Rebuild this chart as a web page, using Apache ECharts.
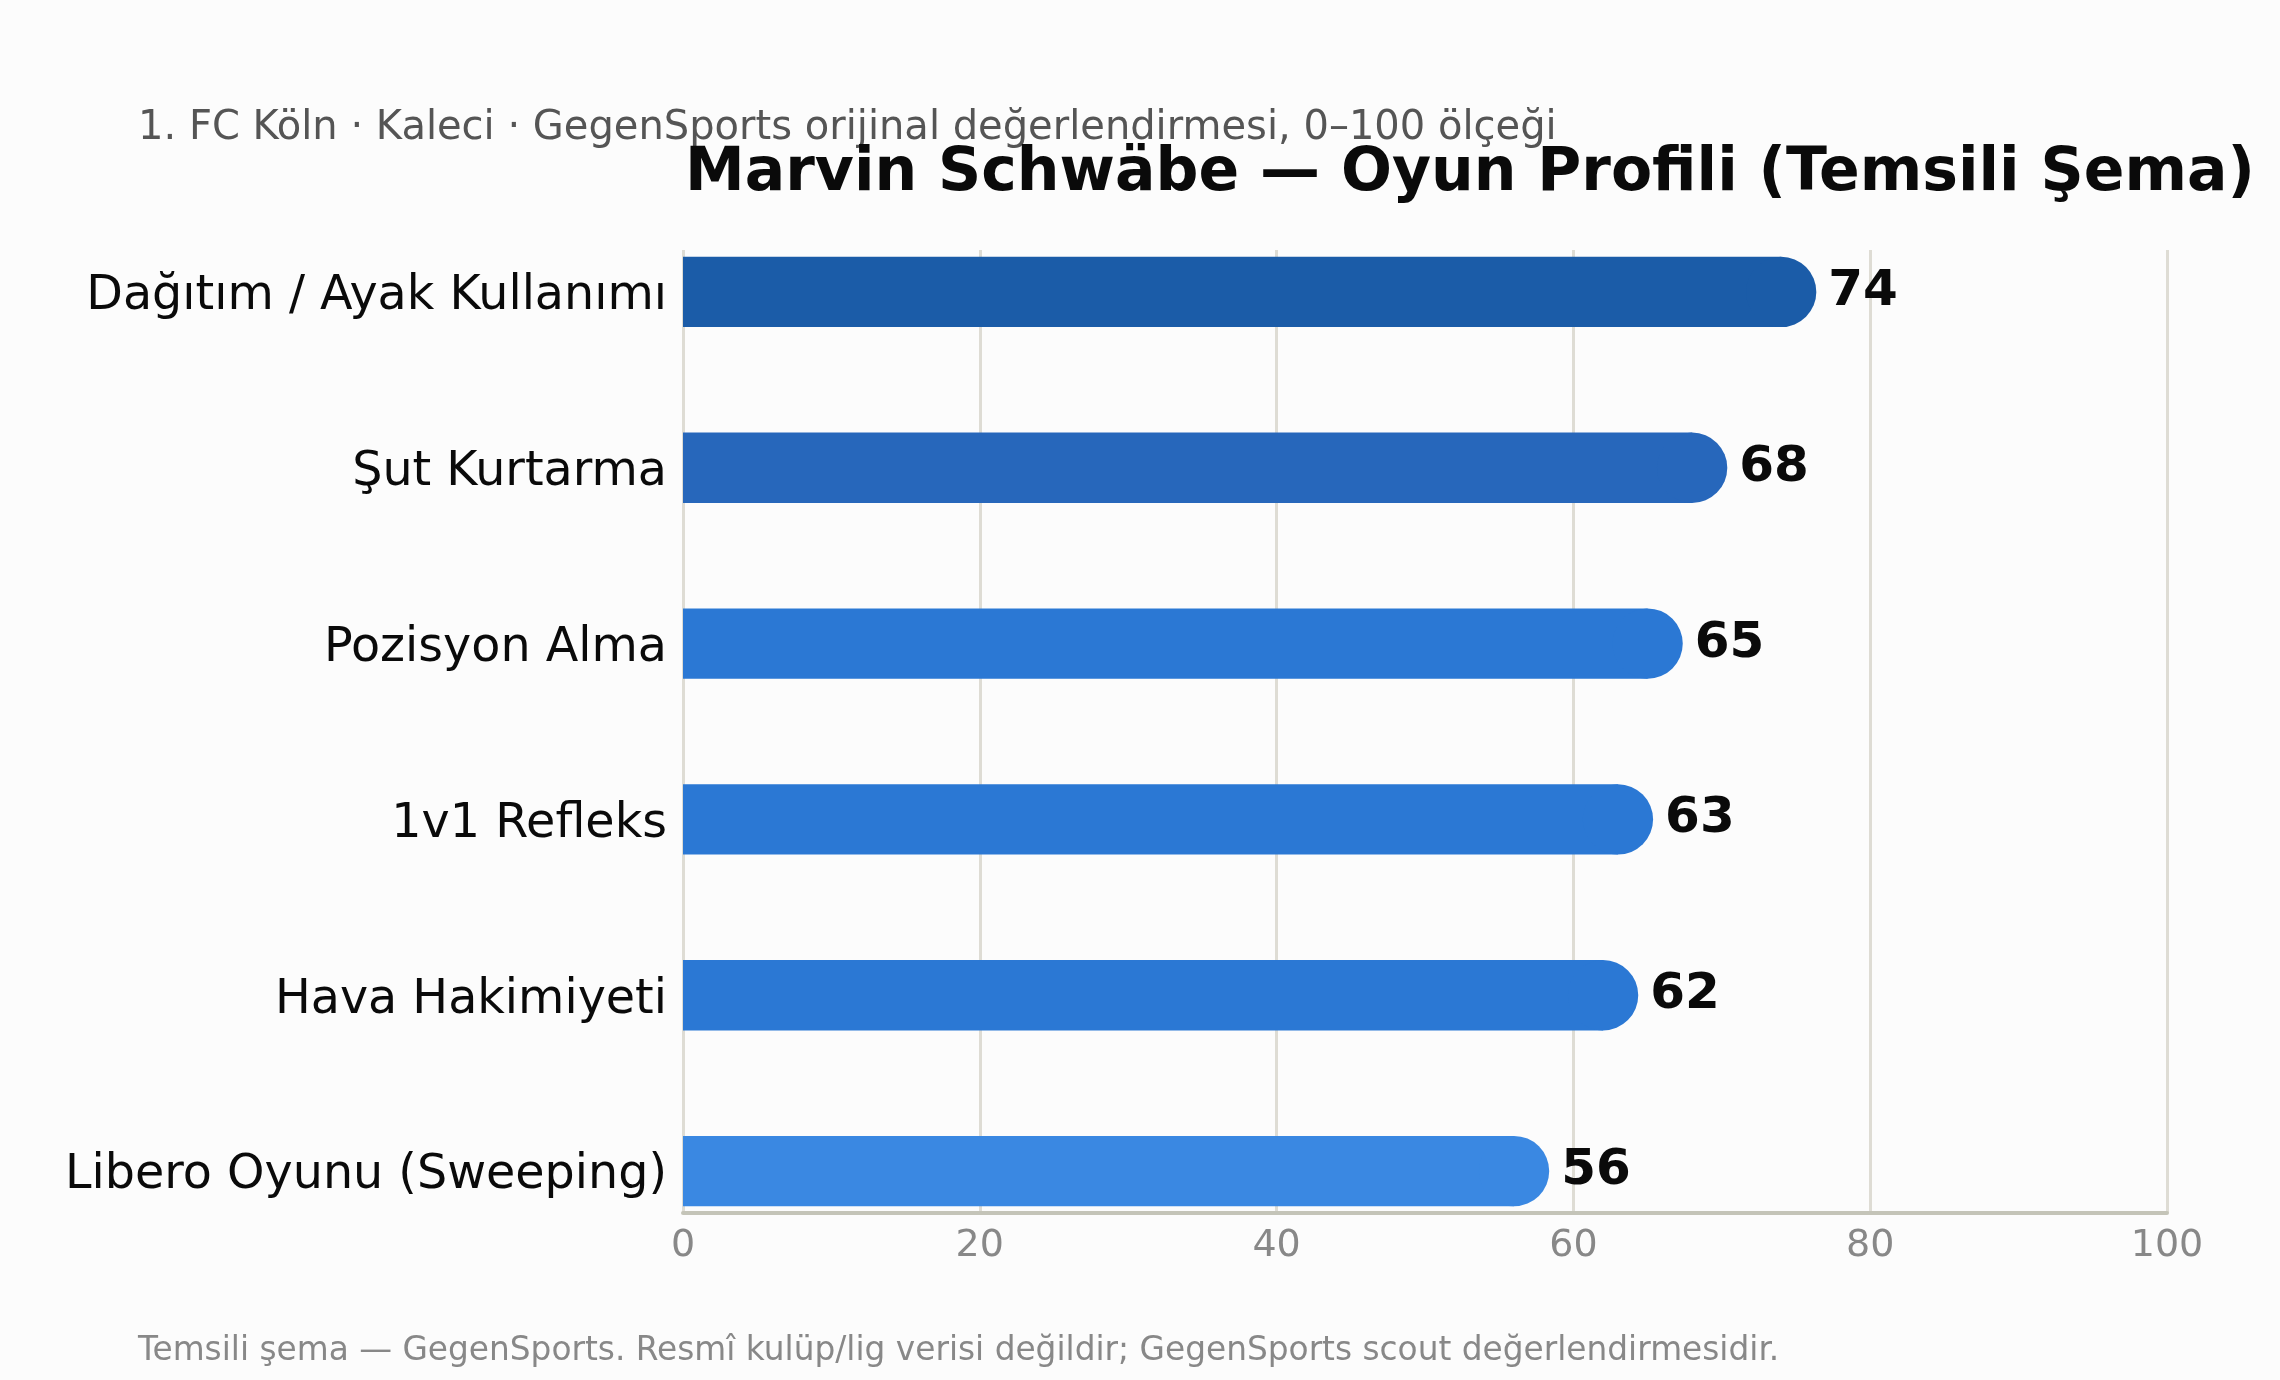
<!DOCTYPE html>
<html>
<head>
<meta charset="utf-8">
<script src="https://cdn.jsdelivr.net/npm/echarts@6/dist/echarts.min.js"></script>
<style>
  html, body { margin: 0; padding: 0; background: #fcfcfc; }
  #chart { width: 2280px; height: 1380px; }
</style>
</head>
<body>
<div id="chart"></div>
<script>
const categories = [
  "Dağıtım / Ayak Kullanımı",
  "Şut Kurtarma",
  "Pozisyon Alma",
  "1v1 Refleks",
  "Hava Hakimiyeti",
  "Libero Oyunu (Sweeping)"
];
const scores = [74, 68, 65, 63, 62, 56];
const barColors = ["#1b5ca8", "#2767bb", "#2b78d4", "#2b78d4", "#2b78d4", "#3a88e2"];
const xTicks = [0, 20, 40, 60, 80, 100];

const font = "DejaVu Sans";
const chart = echarts.init(document.getElementById("chart"));

// bars: flat start at 0, round cap centred on the value (like a round-capped line)
function renderBar(params, api) {
  const idx = api.value(1);
  const end = api.coord([api.value(0), idx]);
  const start = api.coord([0, idx]);
  const h = api.size([0, 1])[1] * 0.4;
  const color = barColors[params.dataIndex];
  return {
    type: "group",
    children: [
      {
        type: "rect",
        shape: { x: start[0], y: end[1] - h / 2, width: end[0] - start[0], height: h },
        style: { fill: color }
      },
      {
        type: "circle",
        shape: { cx: end[0], cy: end[1], r: h / 2 },
        style: { fill: color }
      },
      {
        type: "text",
        x: end[0] + h / 2 + 12,
        y: end[1],
        style: {
          text: String(api.value(0)),
          fontFamily: font,
          fontWeight: "bold",
          fontSize: 50,
          fill: "#0a0a0a",
          verticalAlign: "middle",
          align: "left"
        }
      }
    ]
  };
}

chart.setOption({
  backgroundColor: "#fcfcfc",
  animation: false,
  title: [
    {
      text: "1. FC Köln · Kaleci · GegenSports orijinal değerlendirmesi, 0–100 ölçeği",
      left: 133,
      top: 104,
      textStyle: { fontFamily: font, fontSize: 40, fontWeight: "normal", color: "#555" }
    },
    {
      text: "Marvin Schwäbe — Oyun Profili (Temsili Şema)",
      left: 680,
      top: 139,
      textStyle: { fontFamily: font, fontSize: 60, fontWeight: "bold", color: "#0a0a0a" }
    },
    {
      text: "Temsili şema — GegenSports. Resmî kulüp/lig verisi değildir; GegenSports scout değerlendirmesidir.",
      left: 133,
      top: 1330,
      textStyle: { fontFamily: font, fontSize: 32.8, fontWeight: "normal", color: "#888" }
    }
  ],
  grid: [
    // bar grid: one category band per bar
    { left: 683, right: 113, top: 204, bottom: 121 },
    // axis frame: gridlines and bottom axis line
    { left: 683, right: 113, top: 250, bottom: 167 }
  ],
  xAxis: [
    {
      gridIndex: 0,
      type: "value",
      min: xTicks[0],
      max: xTicks[xTicks.length - 1],
      interval: 20,
      show: false
    },
    {
      gridIndex: 1,
      type: "value",
      min: xTicks[0],
      max: xTicks[xTicks.length - 1],
      interval: 20,
      axisLine: { show: true, lineStyle: { color: "#c4c4b8", width: 4 } },
      axisTick: { show: false },
      axisLabel: { fontFamily: font, fontSize: 38, color: "#888", margin: 14 },
      splitLine: { show: true, lineStyle: { color: "#dedcd4", width: 3 } }
    }
  ],
  yAxis: [
    {
      gridIndex: 0,
      type: "category",
      data: categories,
      inverse: true,
      axisLine: { show: false },
      axisTick: { show: false },
      axisLabel: {
        fontFamily: font, fontSize: 47.6, color: "#0a0a0a", margin: 16,
        verticalAlign: "top", lineHeight: 10
      }
    },
    {
      gridIndex: 1,
      type: "value",
      min: 0,
      max: 1,
      show: false
    }
  ],
  series: [
    {
      type: "custom",
      xAxisIndex: 0,
      yAxisIndex: 0,
      renderItem: renderBar,
      encode: { x: 0, y: 1 },
      data: scores.map((v, i) => [v, i]),
      z: 5
    }
  ]
});
</script>
</body>
</html>
